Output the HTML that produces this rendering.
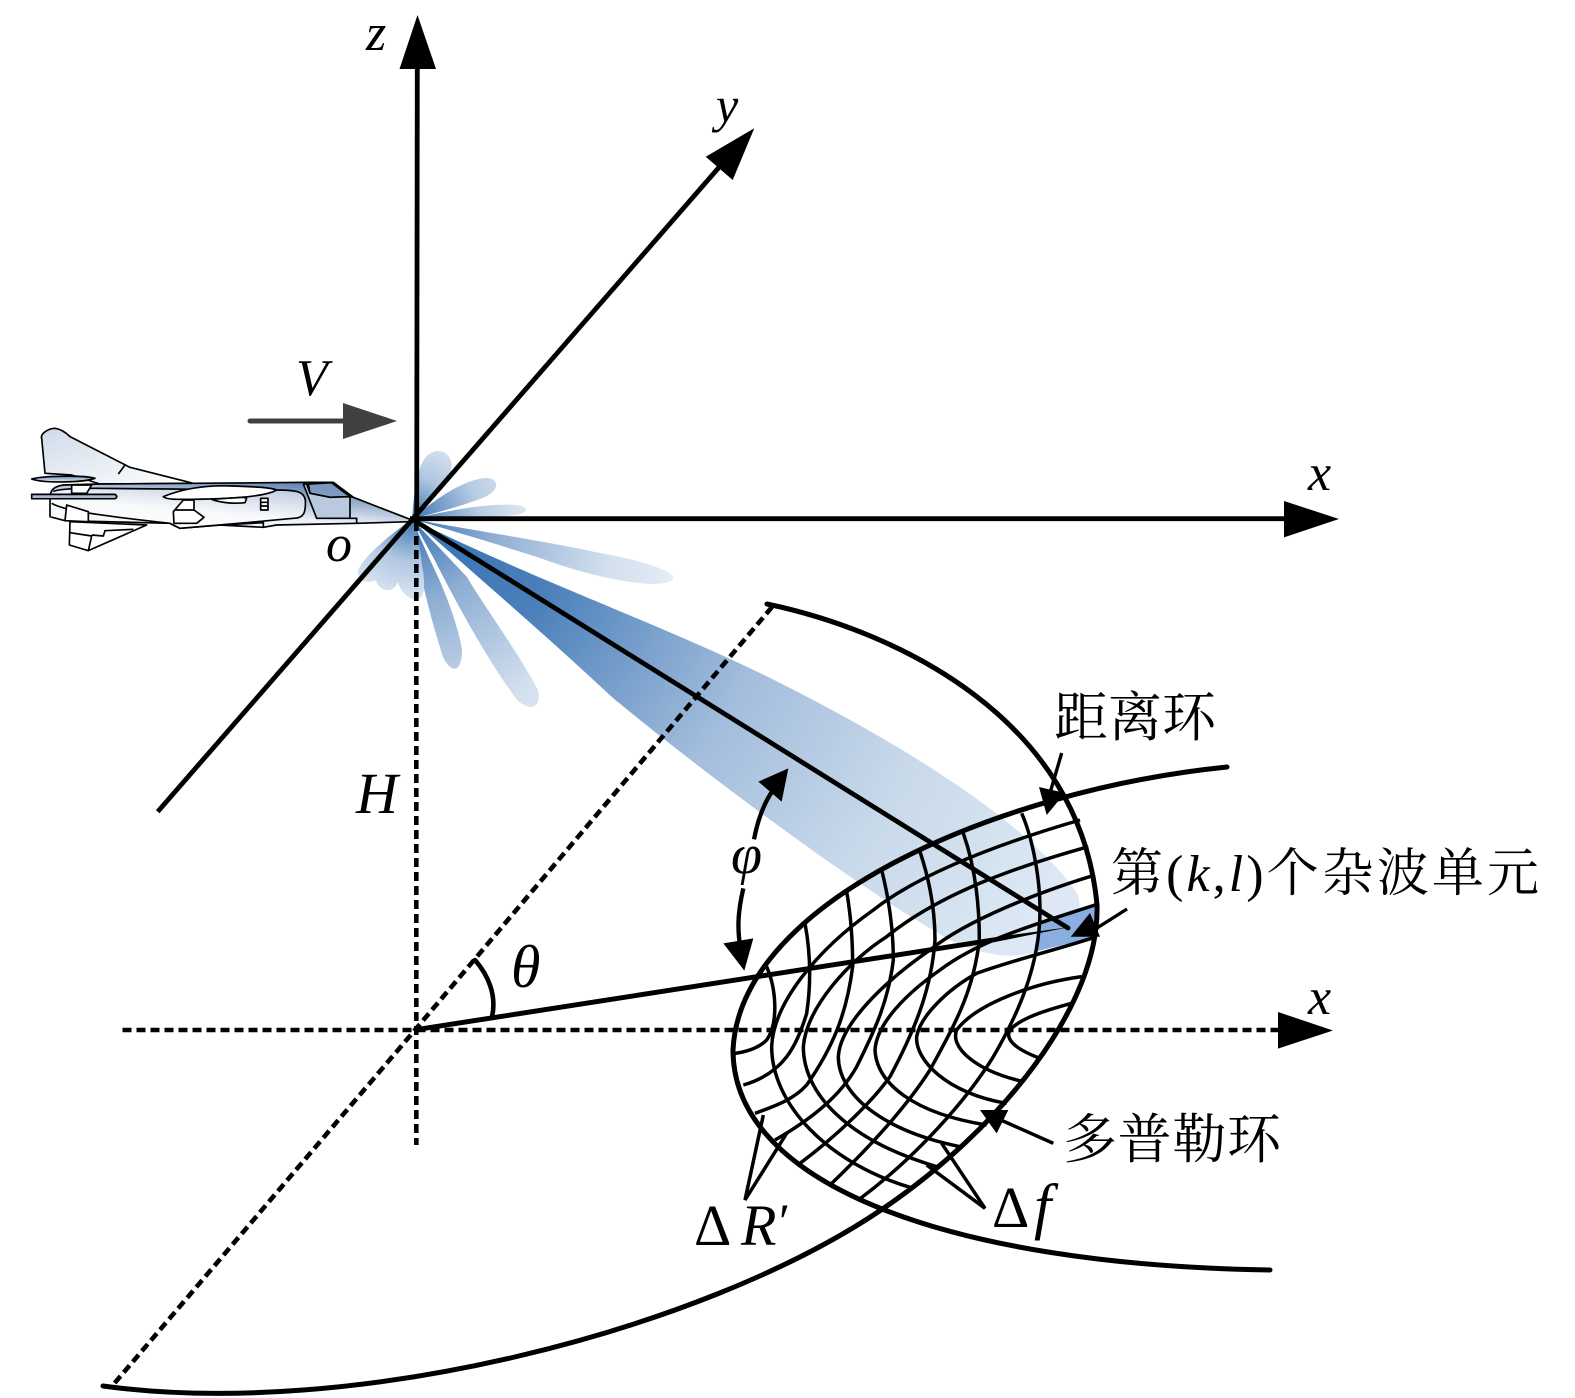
<!DOCTYPE html>
<html>
<head>
<meta charset="utf-8">
<style>
html,body{margin:0;padding:0;background:#fff;width:1575px;height:1398px;overflow:hidden}
svg{display:block}
.m{font-family:"Liberation Serif",serif;font-style:italic;fill:#000}
.u{font-family:"Liberation Serif",serif;fill:#000}
.c{font-family:"Liberation Serif","Noto Serif CJK SC",serif;fill:#000}
</style>
</head>
<body>
<svg width="1575" height="1398" viewBox="0 0 1575 1398" xmlns="http://www.w3.org/2000/svg">
<defs>
<radialGradient id="gm" gradientUnits="userSpaceOnUse" cx="412" cy="519" r="740">
<stop offset="0" stop-color="#3573b5"/><stop offset=".2" stop-color="#4a7fba"/><stop offset=".5" stop-color="#a3bddc"/><stop offset=".75" stop-color="#c8d9ea"/><stop offset="1" stop-color="#dde8f4"/>
</radialGradient>
<radialGradient id="ga" gradientUnits="userSpaceOnUse" cx="412" cy="519" r="270">
<stop offset="0" stop-color="#3a74b4"/><stop offset=".3" stop-color="#8dadd3"/><stop offset=".75" stop-color="#d3e0ee"/><stop offset="1" stop-color="#e4ecf6"/>
</radialGradient>
<radialGradient id="gb" gradientUnits="userSpaceOnUse" cx="412" cy="519" r="120">
<stop offset="0" stop-color="#3a74b4"/><stop offset=".55" stop-color="#b5cbe3"/><stop offset="1" stop-color="#e2ebf5"/>
</radialGradient>
<radialGradient id="gc" gradientUnits="userSpaceOnUse" cx="412" cy="519" r="85">
<stop offset="0" stop-color="#3a74b4"/><stop offset=".5" stop-color="#b0c7e0"/><stop offset="1" stop-color="#dfe9f4"/>
</radialGradient>
<linearGradient id="p1" x1="0" y1="1" x2=".7" y2="0">
<stop offset="0" stop-color="#ffffff"/><stop offset=".45" stop-color="#eef2f8"/><stop offset="1" stop-color="#5f80b0"/>
</linearGradient>
<linearGradient id="p2" x1="1" y1="1" x2="0" y2="0">
<stop offset="0" stop-color="#ffffff"/><stop offset="1" stop-color="#d0dbe9"/>
</linearGradient>
<linearGradient id="p3" x1="0" y1="0" x2="0" y2="1">
<stop offset="0" stop-color="#5f80b0"/><stop offset="1" stop-color="#f2f5fa"/>
</linearGradient>
</defs>

<!-- lobes -->
<path fill="url(#gm)" d="M412,519 C530,578 650,620 760,673 C860,722 1020,810 1077,893 C1085,915 1075,930 1040,950 C1020,960 985,957 950,940 C860,890 700,770 613,698 C540,630 470,570 412,519Z"/>
<path fill="url(#ga)" d="M412,519 C470,530 540,540 600,553 C640,560 680,572 672,580 C660,590 600,580 540,558 C500,545 450,530 412,519Z"/>
<path fill="url(#ga)" d="M412,519 L433,557 C445,580 480,650 517,700 C530,712 542,708 538,690 C520,655 480,600 467,577Z"/>
<path fill="url(#ga)" d="M412,519 C417,560 425,600 443,657 C452,675 462,672 462,650 C458,625 445,590 430,560Z"/>
<path fill="url(#gc)" d="M412,519 C414,495 416,465 428,455 C440,445 455,455 451,470 C447,485 430,500 412,519Z"/>
<path fill="url(#gb)" d="M412,519 C440,495 465,480 485,478 C500,478 500,490 485,497 C465,505 440,512 412,519Z"/>
<path fill="url(#gb)" d="M412,519 C450,510 490,503 515,505 C530,506 530,513 515,515 C485,518 450,518 412,519Z"/>
<path fill="url(#gc)" d="M412,519 C390,535 365,555 358,570 C356,582 368,584 376,580 C378,590 392,596 398,582 C400,592 410,600 417,600 C426,598 425,580 422,565 C420,545 416,530 412,519Z"/>

<!-- plane -->
<g transform="translate(20,410) scale(.33333)" stroke="#000" stroke-width="5" stroke-linejoin="round" fill="none">
<path fill="url(#p2)" d="M65,85 C60,72 85,55 105,55 C125,58 140,70 150,80 L330,172 L520,220 L240,222 L155,195 L75,190Z"/>
<path fill="#fff" d="M150,335 L148,405 L205,422 L380,345 Z"/>
<path d="M150,368 L215,378 L205,422 M215,375 L250,378 L255,362 L340,358"/>
<path d="M295,192 L315,165"/>
<path fill="url(#p1)" d="M1170,328 L1000,262 L940,217 L860,217 L520,220 L240,222 L130,225 C100,230 92,240 90,260 L90,320 L135,332 L450,340 L480,355 L600,345 L730,352 L770,345 L1010,340 L1170,335Z"/>
<path fill="#fff" fill-opacity=".5" d="M95,280 C130,300 200,312 450,340 L480,355 L600,345 L820,325 C850,325 858,310 856,270 C852,245 830,240 770,240 L230,235 C150,235 110,238 100,245"/>
<path fill="#7f9bc2" fill-opacity=".8" d="M865,222 L935,218 L990,260 L930,262 L870,250Z"/>
<path fill="#b9c9df" d="M850,222 L890,325 L990,325 L990,260 L930,262 L870,250 L860,222Z"/>
<path d="M990,325 L1010,325 L1010,340 M990,260 L1000,262"/>
<path fill="#fff" d="M140,285 L205,305 L205,335 L135,332Z"/>
<path fill="url(#p3)" d="M35,207 C70,197 190,195 225,205 C190,218 70,220 35,207Z"/>
<path fill="#fff" d="M155,225 L215,225 L200,250 L155,250Z"/>
<path fill="url(#p3)" d="M35,253 L285,253 C292,258 292,263 285,266 L35,266Z"/>
<path fill="#fff" d="M430,260 C490,235 560,225 640,228 C700,230 750,232 770,240 C740,258 640,268 480,268 C450,268 435,265 430,260Z"/>
<path fill="#fff" d="M575,268 L670,262 L680,265 L675,278 C640,282 600,278 575,268Z"/>
<path fill="#fff" d="M460,305 L490,270 L522,270 L522,300 L552,322 L530,340 L462,340Z"/>
<path d="M462,300 L522,300"/>
<rect x="722" y="265" width="22" height="35" fill="#fff"/>
<path d="M722,277 H744 M722,288 H744"/>
<path d="M730,335 L730,352 M600,345 L730,338"/>
</g>

<!-- axes -->
<g stroke="#000" stroke-width="4.8" fill="none">
<path d="M416.7,519 L417.3,62"/>
<path d="M157.7,811.7 L728,157"/>
<path d="M410,518.7 L1290,518.7"/>
</g>
<g fill="#000">
<path d="M417.5,15 L436,69 L399.5,69Z"/>
<path d="M754.3,128.3 L732.7,180 L705.7,156.7Z"/>
<path d="M1339,519 L1284,537.4 L1284,501Z"/>
<path d="M1333,1030.5 L1278,1048.6 L1278,1012Z"/>
</g>
<g stroke="#000" stroke-width="4.6" fill="none" stroke-dasharray="9 5">
<path d="M416.3,522 L416.3,1145"/>
<path d="M122.5,1030 L1278,1030"/>
<path d="M772,607 L415,1030 L113,1385"/>
</g>
<!-- V arrow -->
<path d="M250,421 L345,421" stroke="#404040" stroke-width="5" stroke-linecap="round"/>
<path d="M397,421 L343,403 L343,439Z" fill="#404040"/>

<!-- cell + grid (zoom coordinates) -->
<g transform="translate(700,760) scale(.33333)">
<path fill="#8aaee0" d="M1190,435 L1020,490 L1005,575 L1190,530Z"/>
<g stroke="#000" stroke-width="10.5" fill="none">
<path d="M1115,730 C1040,750 960,775 930,810 C915,835 940,865 1020,895"/>
<path d="M1145,650 C1000,670 830,730 770,810 C750,860 820,930 970,965"/>
<path d="M1190,530 C1050,575 940,600 830,640 C740,690 660,770 650,830 C645,900 740,1000 920,1030"/>
<path d="M1185,435 C1000,495 840,540 720,630 C620,700 530,790 525,870 C530,970 640,1060 860,1095"/>
<path d="M1185,345 C1020,395 800,480 690,570 C560,660 420,790 415,890 C415,1000 540,1110 780,1160"/>
<path d="M1165,260 C950,320 720,400 560,530 C450,600 320,740 310,860 C310,1000 440,1140 710,1220"/>
<path d="M1140,180 C900,250 660,340 520,450 C350,570 220,730 215,860 C215,1030 380,1210 640,1285"/>
<path d="M965,160 C1000,240 1020,360 1020,450 C1020,620 950,770 880,890 C800,1020 650,1190 475,1320"/>
<path d="M790,220 C825,320 838,430 838,540 C820,700 760,800 690,930 C620,1040 510,1160 390,1275"/>
<path d="M660,275 C695,380 705,470 705,540 C695,680 650,800 570,950 C520,1020 420,1120 300,1210"/>
<path d="M545,330 C570,430 580,520 580,600 C565,720 530,800 470,920 C420,1010 330,1080 225,1140"/>
<path d="M440,395 C455,480 458,560 458,620 C440,760 400,860 320,975 C280,1020 220,1040 165,1060"/>
<path d="M315,490 C330,570 335,660 320,760 C290,860 250,940 130,975"/>
<path d="M200,620 C230,690 235,790 200,840 C175,865 140,875 105,880"/>
<path d="M190,1065 L135,1320 L260,1120"/>
<path d="M725,1150 L855,1345 L680,1215"/>
<path d="M1060,1150 L880,1070"/>
<path d="M162,238 C175,170 200,110 235,70" stroke-width="13"/>
<path d="M130,385 C115,450 110,500 122,570" stroke-width="13"/>
</g>
<g fill="#000">
<path d="M265,25 L175,65 L245,125Z"/>
<path d="M133,632 L70,550 L160,535Z"/>
<path d="M840,1050 L925,1050 L890,1120Z"/>
</g>
</g>

<!-- outlines -->
<g stroke="#000" fill="none" stroke-width="5" stroke-linecap="round">
<path d="M767,604 C900,632 1080,720 1097,905 C1100,1005 1000,1130 881,1210 C700,1332 350,1420 103,1386"/>
<path d="M1227,767 C1000,790 740,900 733,1050 C733,1185 950,1265 1270,1270"/>
<path d="M412,519 L1068,928" stroke-width="4.8"/>
<path d="M475,960 C488,975 497,995 492,1017" stroke-width="4.6"/>
</g>
<path d="M414,1027.5 L990,938 L1070,927 L990,943 L414,1032.5Z" fill="#000"/>

<!-- leaders + heads on top -->
<path d="M1061.7,753 L1050,793" stroke="#000" stroke-width="3.4" fill="none"/>
<path d="M1097,928 L1127,909" stroke="#000" stroke-width="3.4" fill="none"/>
<path d="M1046.7,815 L1039,787 L1065,793Z" fill="#000"/>
<path d="M1070.7,936.7 L1090,913 L1100,936.7Z" fill="#000"/>

<!-- labels -->
<text class="m" x="366" y="50" font-size="52">z</text>
<text class="m" x="716" y="122" font-size="50">y</text>
<text class="m" x="1308" y="490" font-size="52">x</text>
<text class="m" x="1308" y="1014" font-size="52">x</text>
<text class="m" x="296" y="395" font-size="52">V</text>
<text class="m" x="326" y="561" font-size="52">o</text>
<text class="m" x="356" y="813" font-size="58">H</text>
<text class="m" x="511" y="987" font-size="60">θ</text>
<text class="m" x="731" y="873" font-size="56">φ</text>
<text class="u" x="694" y="1245" font-size="58">Δ</text>
<text class="m" x="741" y="1245" font-size="58">R</text>
<text class="m" x="776" y="1238" font-size="50">′</text>
<text class="u" x="992" y="1227" font-size="58">Δ</text>
<text class="m" x="1034" y="1227" font-size="62">f</text>
<text class="c" x="1054" y="736" font-size="54" textLength="162" lengthAdjust="spacing">距离环</text>
<text class="c" x="1063" y="1158" font-size="54" textLength="218" lengthAdjust="spacing">多普勒环</text>
<text class="c" x="1111" y="891" font-size="52" textLength="428" lengthAdjust="spacing">第(<tspan font-style="italic">k</tspan>,<tspan font-style="italic">l</tspan>)个杂波单元</text>
</svg>
</body>
</html>
